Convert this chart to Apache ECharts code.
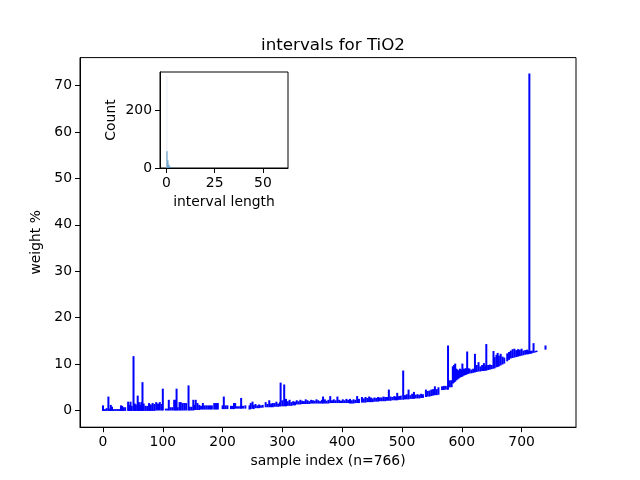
<!DOCTYPE html>
<html>
<head>
<meta charset="utf-8">
<script src="https://cdn.jsdelivr.net/npm/echarts@6/dist/echarts.min.js"></script>
<style>html,body{margin:0;padding:0;background:#fff}#c{width:640px;height:480px}</style>
</head>
<body>
<div id="c"></div>
<script>
// sample index, lower and upper bound of each interval (weight %)
const sampleIdx = [0,3,6,9,11,13,15,18,21,24,27,30,32,34,37,
42,44,46,48,51,53,55,58,60,62,64,66,68,71,74,77,80,83,86,89,92,95,98,100,
105,108,110,113,116,119,121,123,125,128,130,133,136,139,143,145,148,151,153,155,158,161,164,167,170,173,176,179,182,
186,189,192,200,202,205,208,214,217,219,221,224,227,230,231,234,238,
245,247,250,252,255,258,261,264,267,272,275,278,281,284,287,290,293,296,297,300,303,306,309,312,315,318,321,
324,327,330,333,336,339,342,345,348,351,354,357,360,363,366,368,371,374,377,380,383,386,389,392,395,398,
401,404,407,410,413,416,419,422,425,428,
433,436,439,442,445,448,451,454,457,460,463,466,469,472,475,478,481,484,487,490,492,495,498,
502,505,508,511,514,517,520,523,526,529,532,535,540,543,546,549,552,555,558,561,
567,570,573,576,577,580,583,585,587,589,591,593,595,597,599,601,603,605,607,609,611,613,
616,619,622,625,628,631,634,637,640,641,644,647,650,653,655,658,660,662,665,668,671,
676,679,682,685,688,691,694,697,700,703,706,709,711,713,715,717,720,723,725,740];
const lowerBound = [-0.1,-0.1,-0.1,-0.1,-0.1,-0.1,-0.1,-0.1,-0.1,-0.1,-0.1,-0.1,-0.1,-0.1,-0.1,
-0.1,-0.1,-0.1,-0.1,-0.1,-0.1,-0.1,-0.1,-0.1,-0.1,-0.1,-0.1,-0.1,-0.1,-0.1,-0.1,-0.1,-0.1,-0.1,0.0,0.0,0.0,0.0,0.0,
0.0,0.0,0.0,0.0,0.0,0.0,0.0,0.0,0.0,0.0,0.0,0.0,0.0,0.0,0.0,0.0,0.0,0.0,0.1,0.1,0.1,0.1,0.2,0.2,0.2,0.2,0.2,0.2,0.2,
0.2,0.2,0.2,0.3,0.3,0.3,0.3,0.3,0.3,0.3,0.4,0.4,0.4,0.4,0.4,0.4,0.4,
0.2,0.3,0.4,0.3,0.5,0.5,0.5,0.6,0.6,0.7,0.7,0.7,0.7,0.7,0.8,0.8,0.8,0.9,0.9,0.9,0.9,0.9,1.0,1.0,1.0,1.1,1.1,
1.3,1.3,1.3,1.4,1.4,1.4,1.4,1.4,1.5,1.5,1.5,1.5,1.5,1.5,1.5,1.5,1.5,1.5,1.5,1.6,1.6,1.6,1.6,1.6,1.6,1.6,
1.6,1.6,1.6,1.6,1.5,1.5,1.5,1.6,1.6,1.6,
1.7,1.7,1.7,1.8,1.8,1.8,1.8,1.9,1.9,1.9,2.0,2.0,2.0,2.0,2.1,2.1,2.1,2.2,2.2,2.2,2.2,2.3,2.3,
2.3,2.4,2.4,2.4,2.5,2.5,2.5,2.6,2.6,2.6,2.7,2.7,2.9,3.0,3.0,3.1,3.2,3.3,3.3,3.4,
4.4,4.4,4.5,4.5,4.5,5.0,5.0,5.8,6.0,6.2,6.5,6.7,6.9,7.1,7.2,7.3,7.5,7.6,7.7,7.8,7.9,8.0,
8.0,8.1,8.2,8.3,8.4,8.4,8.5,8.5,8.6,8.6,8.7,8.8,8.9,9.0,9.1,9.3,9.4,9.5,9.7,9.9,10.1,
10.6,10.9,11.2,11.3,11.4,11.5,11.6,11.7,11.8,11.9,12.0,12.1,12.1,12.2,12.2,12.3,12.4,12.5,12.6,13.1];
const upperBound = [1.1,0.3,0.5,3.0,0.4,1.2,0.8,0.3,0.3,0.3,0.3,1.1,1.0,0.7,0.7,
1.9,1.2,1.9,1.0,11.7,1.5,1.3,3.2,1.8,1.2,1.8,6.1,1.5,1.0,1.0,1.6,1.3,1.6,1.4,1.8,1.5,1.8,1.4,4.7,
0.4,0.4,2.3,0.7,0.7,2.3,2.3,4.7,0.7,1.8,1.8,1.6,1.6,1.6,5.4,0.8,0.8,2.3,1.2,2.3,1.6,1.2,1.0,1.6,1.1,1.1,1.1,1.1,1.1,
1.6,1.6,1.6,1.1,3.0,1.1,1.1,1.0,1.0,1.6,1.6,0.9,0.9,1.0,2.7,1.0,1.1,
1.1,1.6,1.9,1.2,1.4,1.1,1.3,1.1,1.2,1.8,1.4,2.2,1.5,1.6,1.6,1.9,1.5,1.8,6.0,2.2,5.6,2.5,2.0,2.3,1.8,2.0,1.9,
2.2,2.0,2.3,2.1,2.0,2.4,2.2,2.0,2.3,2.2,2.1,2.4,2.2,2.0,2.3,3.0,2.4,2.1,2.3,3.1,2.2,2.4,2.2,3.0,2.3,2.1,
2.4,2.2,2.5,2.3,2.5,2.2,2.4,2.3,3.1,2.5,
2.9,2.6,2.9,2.7,3.0,2.8,2.6,2.8,2.7,2.9,2.8,2.8,3.0,2.9,2.9,4.5,3.0,2.9,3.1,3.0,3.8,3.1,3.2,
8.6,3.3,3.5,4.5,3.3,3.6,4.0,3.4,3.5,3.4,3.6,3.5,4.5,4.2,4.3,4.5,4.6,5.2,4.6,5.0,
5.2,5.3,5.3,5.2,14.0,6.5,6.5,9.5,9.8,10.1,9.0,8.8,8.6,9.0,8.8,10.1,9.0,9.0,9.1,12.7,9.1,9.0,
8.8,9.0,12.2,9.8,10.4,9.5,9.8,10.2,9.7,14.3,9.8,9.9,9.8,12.8,11.5,12.0,12.4,11.8,12.2,11.6,11.4,
12.3,12.6,12.9,13.2,13.3,13.0,13.2,13.1,13.3,12.9,13.0,13.1,12.9,72.6,12.8,12.9,14.5,12.8,12.9,14.0];

const xTicks = [0,100,200,300,400,500,600,700];
const yTicks = [0,10,20,30,40,50,60,70];

// inset histogram of interval length
const histLeft   = [0.05, 0.55, 1.05, 1.55, 2.05, 2.55, 3.05];
const histCounts = [58, 27, 12, 5, 3, 2, 1];
const histBinWidth = 0.5;
const spikeBinLeft = [0.0];
const spikeBinCount = [317];
const spikeBinWidth = 0.05;
const insetXTicks = [0,25,50];
const insetYTicks = [0,200];

const FONT = 'DejaVu Sans';
const mainData = sampleIdx.map((x,i)=>[x, lowerBound[i], upperBound[i]]);
const histData = histLeft.map((x,i)=>[x, x+histBinWidth, histCounts[i]]);
const spikeData = spikeBinLeft.map((x,i)=>[x, x+spikeBinWidth, spikeBinCount[i]]);

function axisCommon(ticks, name, gap, rot){
  return {
    type:'value',
    axisLine:{show:true, onZero:false, lineStyle:{color:'#000', width:1}},
    axisTick:{show:true, length:5, inside:false, lineStyle:{color:'#000', width:1}, customValues:ticks},
    axisLabel:{customValues:ticks, color:'#000', fontSize:13.9, fontFamily:FONT, margin:8},
    splitLine:{show:false},
    name:name, nameLocation:'middle', nameGap:gap, nameRotate:rot,
    nameTextStyle:{color:'#000', fontSize:13.9, fontFamily:FONT}
  };
}

const chart = echarts.init(document.getElementById('c'), null, {renderer:'canvas'});

function rectItem(params, api, fill){
  const p0 = api.coord([api.value(0), 0]);
  const p1 = api.coord([api.value(1), api.value(2)]);
  const w = Math.max(p1[0]-p0[0], 1);
  return {type:'rect', shape:{x:p0[0], y:p1[1], width:w, height:p0[1]-p1[1]}, style:{fill:fill}};
}

chart.setOption({
  animation:false,
  backgroundColor:'#fff',
  title:{text:'intervals for TiO2', left:328, top:32, textAlign:'center',
    textStyle:{fontSize:16.7, fontWeight:'normal', color:'#000', fontFamily:FONT}},
  grid:[
    {left:80, top:57.6, width:496, height:369.6, show:true, borderColor:'#000', borderWidth:1, backgroundColor:'#fff'},
    {left:160, top:72, width:128, height:96, show:true, borderColor:'#000', borderWidth:1, backgroundColor:'#fff'}
  ],
  xAxis:[
    Object.assign(axisCommon(xTicks, 'sample index (n=766)', 27, 0), {gridIndex:0, min:-38.5, max:791}),
    Object.assign(axisCommon(insetXTicks, 'interval length', 27, 0), {gridIndex:1, min:-3.3, max:63})
  ],
  yAxis:[
    Object.assign(axisCommon(yTicks, 'weight %', 31, 90), {gridIndex:0, min:-3.6, max:76}),
    Object.assign(axisCommon(insetYTicks, 'Count', 42, 90), {gridIndex:1, min:0, max:333})
  ],
  series:[
    {type:'custom', xAxisIndex:0, yAxisIndex:0, data:mainData, encode:{x:0, y:[1,2]}, z:3,
      renderItem:function(params, api){
        const p0 = api.coord([api.value(0), api.value(1)]);
        const p1 = api.coord([api.value(0), api.value(2)]);
        return {type:'line', shape:{x1:p0[0], y1:p0[1], x2:p1[0], y2:p1[1]},
          style:{stroke:'#0000ff', lineWidth:2, lineCap:'butt'}};
      }},
    {type:'custom', xAxisIndex:1, yAxisIndex:1, data:spikeData, encode:{x:[0,1], y:2}, z:3,
      renderItem:function(params, api){ return rectItem(params, api, '#e4edf6'); }},
    {type:'custom', xAxisIndex:1, yAxisIndex:1, data:histData, encode:{x:[0,1], y:2}, z:4,
      renderItem:function(params, api){ return rectItem(params, api, '#4f8fc2'); }}
  ]
});
</script>
</body>
</html>
